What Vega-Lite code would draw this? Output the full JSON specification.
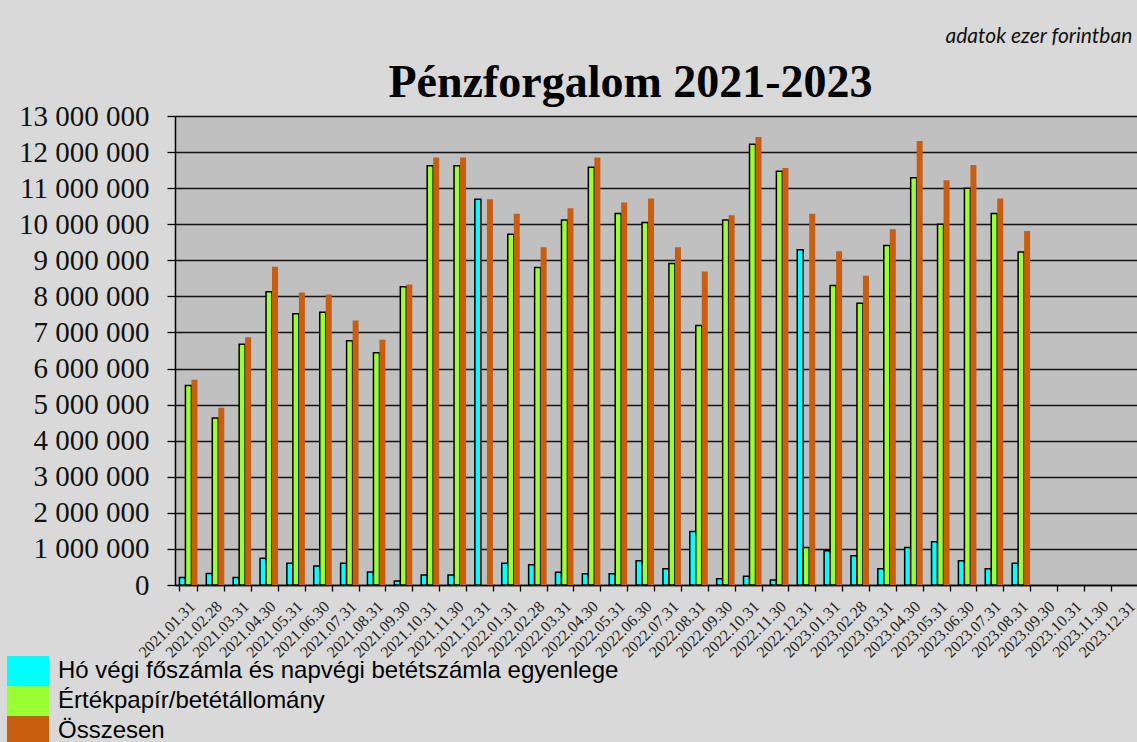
{
  "$schema": "https://vega.github.io/schema/vega-lite/v6.json",
  "autosize": {"type": "none"},
  "padding": {"left": 175, "top": 116, "right": -5, "bottom": 157},
  "width": 967,
  "height": 469,
  "background": "#d9d9d9",
  "title": {
    "text": "Pénzforgalom 2021-2023",
    "font": "Liberation Serif",
    "fontWeight": "bold",
    "fontSize": 46,
    "color": "#000000",
    "anchor": "middle",
    "frame": "group",
    "baseline": "alphabetic",
    "dx": -28,
    "offset": -118
  },
  "data": {
    "values": [
      {"d": "2021.01.31", "c": 210000, "g": 5530000, "o": 5690000},
      {"d": "2021.02.28", "c": 320000, "g": 4630000, "o": 4910000},
      {"d": "2021.03.31", "c": 210000, "g": 6670000, "o": 6870000},
      {"d": "2021.04.30", "c": 740000, "g": 8130000, "o": 8820000},
      {"d": "2021.05.31", "c": 600000, "g": 7520000, "o": 8110000},
      {"d": "2021.06.30", "c": 530000, "g": 7560000, "o": 8050000},
      {"d": "2021.07.31", "c": 600000, "g": 6770000, "o": 7330000},
      {"d": "2021.08.31", "c": 360000, "g": 6440000, "o": 6800000},
      {"d": "2021.09.30", "c": 110000, "g": 8270000, "o": 8330000},
      {"d": "2021.10.31", "c": 280000, "g": 11620000, "o": 11850000},
      {"d": "2021.11.30", "c": 280000, "g": 11620000, "o": 11850000},
      {"d": "2021.12.31", "c": 10690000, "o": 10690000},
      {"d": "2022.01.31", "c": 600000, "g": 9720000, "o": 10290000},
      {"d": "2022.02.28", "c": 560000, "g": 8800000, "o": 9360000},
      {"d": "2022.03.31", "c": 350000, "g": 10120000, "o": 10440000},
      {"d": "2022.04.30", "c": 310000, "g": 11580000, "o": 11850000},
      {"d": "2022.05.31", "c": 310000, "g": 10300000, "o": 10600000},
      {"d": "2022.06.30", "c": 670000, "g": 10050000, "o": 10710000},
      {"d": "2022.07.31", "c": 450000, "g": 8910000, "o": 9360000},
      {"d": "2022.08.31", "c": 1480000, "g": 7190000, "o": 8690000},
      {"d": "2022.09.30", "c": 170000, "g": 10120000, "o": 10250000},
      {"d": "2022.10.31", "c": 240000, "g": 12220000, "o": 12420000},
      {"d": "2022.11.30", "c": 140000, "g": 11470000, "o": 11560000},
      {"d": "2022.12.31", "c": 9290000, "g": 1040000, "o": 10290000},
      {"d": "2023.01.31", "c": 950000, "g": 8300000, "o": 9250000},
      {"d": "2023.02.28", "c": 810000, "g": 7810000, "o": 8570000},
      {"d": "2023.03.31", "c": 450000, "g": 9410000, "o": 9860000},
      {"d": "2023.04.30", "c": 1040000, "g": 11290000, "o": 12310000},
      {"d": "2023.05.31", "c": 1200000, "g": 10000000, "o": 11220000},
      {"d": "2023.06.30", "c": 670000, "g": 11000000, "o": 11640000},
      {"d": "2023.07.31", "c": 450000, "g": 10300000, "o": 10710000},
      {"d": "2023.08.31", "c": 600000, "g": 9230000, "o": 9810000}
    ]
  },
  "transform": [{"fold": ["c", "g", "o"], "as": ["s", "v"]}],
  "mark": {"type": "bar", "stroke": "#000000"},
  "encoding": {
    "x": {
      "field": "d",
      "type": "nominal",
      "sort": null,
      "scale": {
        "domain": ["2021.01.31","2021.02.28","2021.03.31","2021.04.30","2021.05.31","2021.06.30","2021.07.31","2021.08.31","2021.09.30","2021.10.31","2021.11.30","2021.12.31",
                   "2022.01.31","2022.02.28","2022.03.31","2022.04.30","2022.05.31","2022.06.30","2022.07.31","2022.08.31","2022.09.30","2022.10.31","2022.11.30","2022.12.31",
                   "2023.01.31","2023.02.28","2023.03.31","2023.04.30","2023.05.31","2023.06.30","2023.07.31","2023.08.31","2023.09.30","2023.10.31","2023.11.30","2023.12.31"],
        "paddingInner": 0.33,
        "paddingOuter": 0.165
      },
      "axis": {
        "title": null,
        "labelAngle": -45,
        "labelAlign": "right",
        "labelBaseline": "top",
        "labelFont": "Liberation Serif",
        "labelFontSize": 16,
        "labelColor": "#222222",
        "labelPadding": 7,
        "labelOffset": -2,
        "labelOverlap": false,
        "tickBand": "extent",
        "tickColor": "#000000",
        "tickSize": 6,
        "tickWidth": 1.3,
        "domainColor": "#000000",
        "domainWidth": 1.5,
        "grid": false
      }
    },
    "xOffset": {"field": "s", "type": "nominal", "scale": {"domain": ["c", "g", "o"], "paddingInner": 0, "paddingOuter": 0}},
    "y": {
      "field": "v",
      "type": "quantitative",
      "scale": {"domain": [0, 13000000], "nice": false},
      "axis": {
        "title": "adatok ezer forintban",
        "titleAngle": 0,
        "titleX": 770,
        "titleY": -74,
        "titleAlign": "left",
        "titleBaseline": "alphabetic",
        "titleFont": "Lato",
        "titleFontStyle": "italic",
        "titleFontWeight": "normal",
        "titleFontSize": 21,
        "titleColor": "#111111",
        "values": [0,1000000,2000000,3000000,4000000,5000000,6000000,7000000,8000000,9000000,10000000,11000000,12000000,13000000],
        "format": ",d",
        "labelExpr": "replace(datum.label, regexp(',', 'g'), ' ')",
        "labelFont": "Liberation Serif",
        "labelFontSize": 29,
        "labelColor": "#111111",
        "labelPadding": 18,
        "tickColor": "#000000",
        "tickSize": 8,
        "tickWidth": 1.3,
        "domainColor": "#000000",
        "domainWidth": 1.5,
        "grid": true,
        "gridColor": "#000000",
        "gridWidth": 1.3,
        "gridOpacity": 0.9
      }
    },
    "color": {
      "field": "s",
      "type": "nominal",
      "scale": {"domain": ["c", "g", "o"], "range": ["#00ffff", "#99ff33", "#c95d10"]},
      "legend": {
        "title": null,
        "orient": "none",
        "legendX": -162,
        "legendY": 540,
        "direction": "vertical",
        "symbolType": "M-1.4,-1H1.4V1H-1.4Z",
        "symbolSize": 900,
        "symbolStrokeWidth": 0,
        "symbolOpacity": 1,
        "rowPadding": 0,
        "labelOffset": 15,
        "labelFont": "Liberation Sans",
        "labelFontSize": 24,
        "labelColor": "#000000",
        "labelLimit": 0,
        "labelExpr": "datum.value == 'c' ? 'Hó végi főszámla és napvégi betétszámla egyenlege' : datum.value == 'g' ? 'Értékpapír/betétállomány' : 'Összesen'"
      }
    },
    "strokeWidth": {"condition": {"test": "datum.s != 'o'", "value": 1.5}, "value": 0}
  },
  "config": {
    "view": {"fill": "#c0c0c0", "stroke": null}
  }
}
